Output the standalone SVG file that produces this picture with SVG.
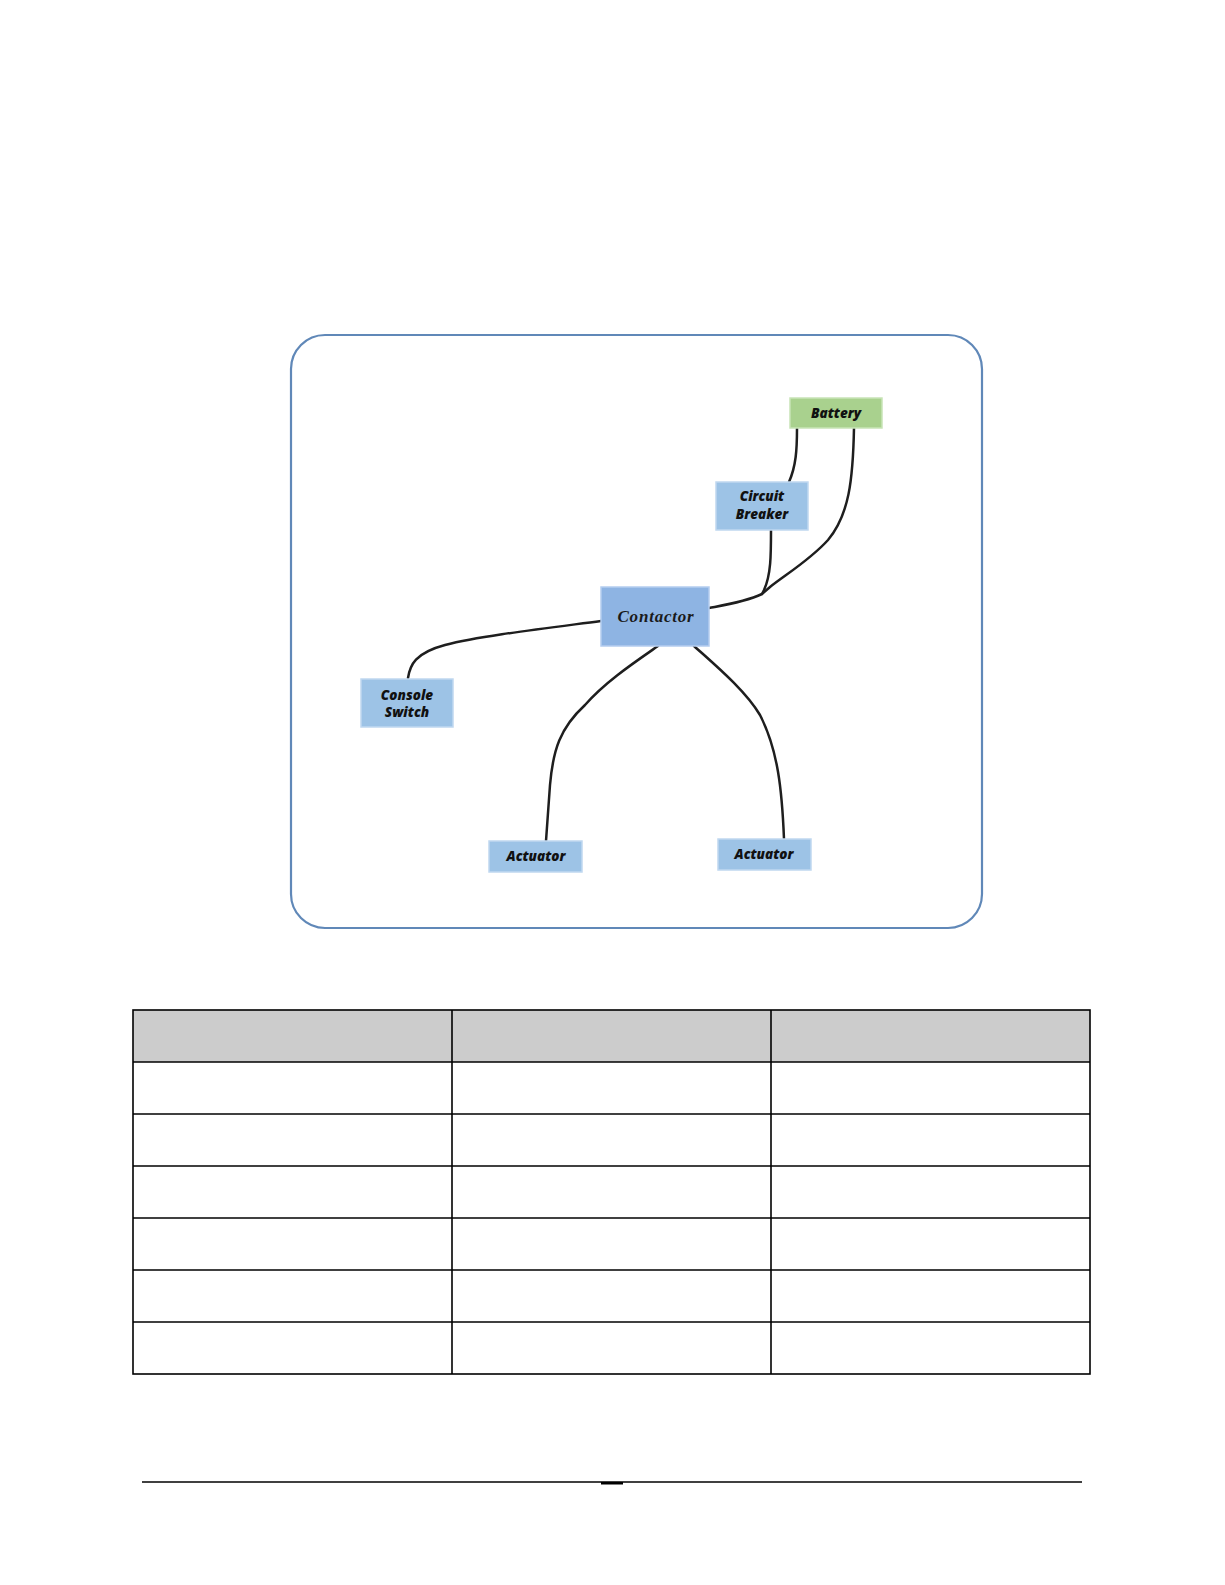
<svg xmlns="http://www.w3.org/2000/svg" width="1225" height="1585" viewBox="0 0 1225 1585">
<style>
.node{fill:#9dc3e6;stroke:#c0d8f0;stroke-width:1.5}
.green{fill:#a9d18e;stroke:#c8e4b6;stroke-width:1.5}
.main{fill:#8eb4e3;stroke:#b4cdef;stroke-width:1.5}
.lbl{font-family:"Open Sans","Liberation Sans",sans-serif;font-weight:800;font-style:italic;font-size:13.5px;fill:#111;text-anchor:middle}
.big{font-family:"Liberation Serif","DejaVu Serif",serif;font-style:italic;font-weight:bold;font-size:17px;letter-spacing:0.8px;fill:#1a1a1a;text-anchor:middle}
.wire{fill:none;stroke:#1e1e1e;stroke-width:2.5;stroke-linecap:round}
.grid{stroke:#000;stroke-width:1.6}
</style>
<rect width="1225" height="1585" fill="#fff"/>
<rect id="frame" x="291" y="335" width="691" height="593" rx="34" ry="34" fill="#fff" stroke="#6088b8" stroke-width="2.2"/>
<g id="connectors">
<path class="wire" d="M797,428 C797,450 796,466 789,482"/>
<path class="wire" d="M854,428 C853,480 849,515 828,540 C810,560 785,575 770,587 L762,594 C745,602 725,605 709,608"/>
<path class="wire" d="M771,530 C771,555 771,575 764,590 L762,594"/>
<path class="wire" d="M601,621 C540,629 480,636 445,645 C415,653 410,665 408,678"/>
<path class="wire" d="M658,646 C635,662 605,682 585,705 C560,728 553,750 550,785 L546,841"/>
<path class="wire" d="M694,646 C715,665 745,690 760,715 C778,750 782,790 784,839"/>
</g>
<g id="battery"><rect class="green" x="790" y="398" width="92" height="30"/><text class="lbl" x="836" y="418">Battery</text></g>
<g id="circuit-breaker"><rect class="node" x="716" y="482" width="92" height="48"/><text class="lbl" x="762" y="501">Circuit</text><text class="lbl" x="762" y="519">Breaker</text></g>
<g id="contactor"><rect class="main" x="601" y="587" width="108" height="59"/><text class="big" x="656" y="622">Contactor</text></g>
<g id="console-switch"><rect class="node" x="361" y="679" width="92" height="48"/><text class="lbl" x="407" y="700">Console</text><text class="lbl" x="407" y="717">Switch</text></g>
<g id="actuator-1"><rect class="node" x="489" y="841" width="93" height="31"/><text class="lbl" x="536" y="861">Actuator</text></g>
<g id="actuator-2"><rect class="node" x="718" y="839" width="93" height="31"/><text class="lbl" x="764" y="859">Actuator</text></g>
<g id="table">
<rect x="133" y="1010" width="957" height="52" fill="#cccccc"/>
<rect x="133" y="1010" width="957" height="364" fill="none" class="grid"/>
<line class="grid" x1="452" y1="1010" x2="452" y2="1374"/>
<line class="grid" x1="771" y1="1010" x2="771" y2="1374"/>
<line class="grid" x1="133" y1="1062" x2="1090" y2="1062"/>
<line class="grid" x1="133" y1="1114" x2="1090" y2="1114"/>
<line class="grid" x1="133" y1="1166" x2="1090" y2="1166"/>
<line class="grid" x1="133" y1="1218" x2="1090" y2="1218"/>
<line class="grid" x1="133" y1="1270" x2="1090" y2="1270"/>
<line class="grid" x1="133" y1="1322" x2="1090" y2="1322"/>
</g>
<g id="footer">
<line x1="142" y1="1482" x2="1082" y2="1482" stroke="#000" stroke-width="1.5"/>
<rect x="601" y="1482" width="22" height="2.5" fill="#000"/>
</g>
</svg>
